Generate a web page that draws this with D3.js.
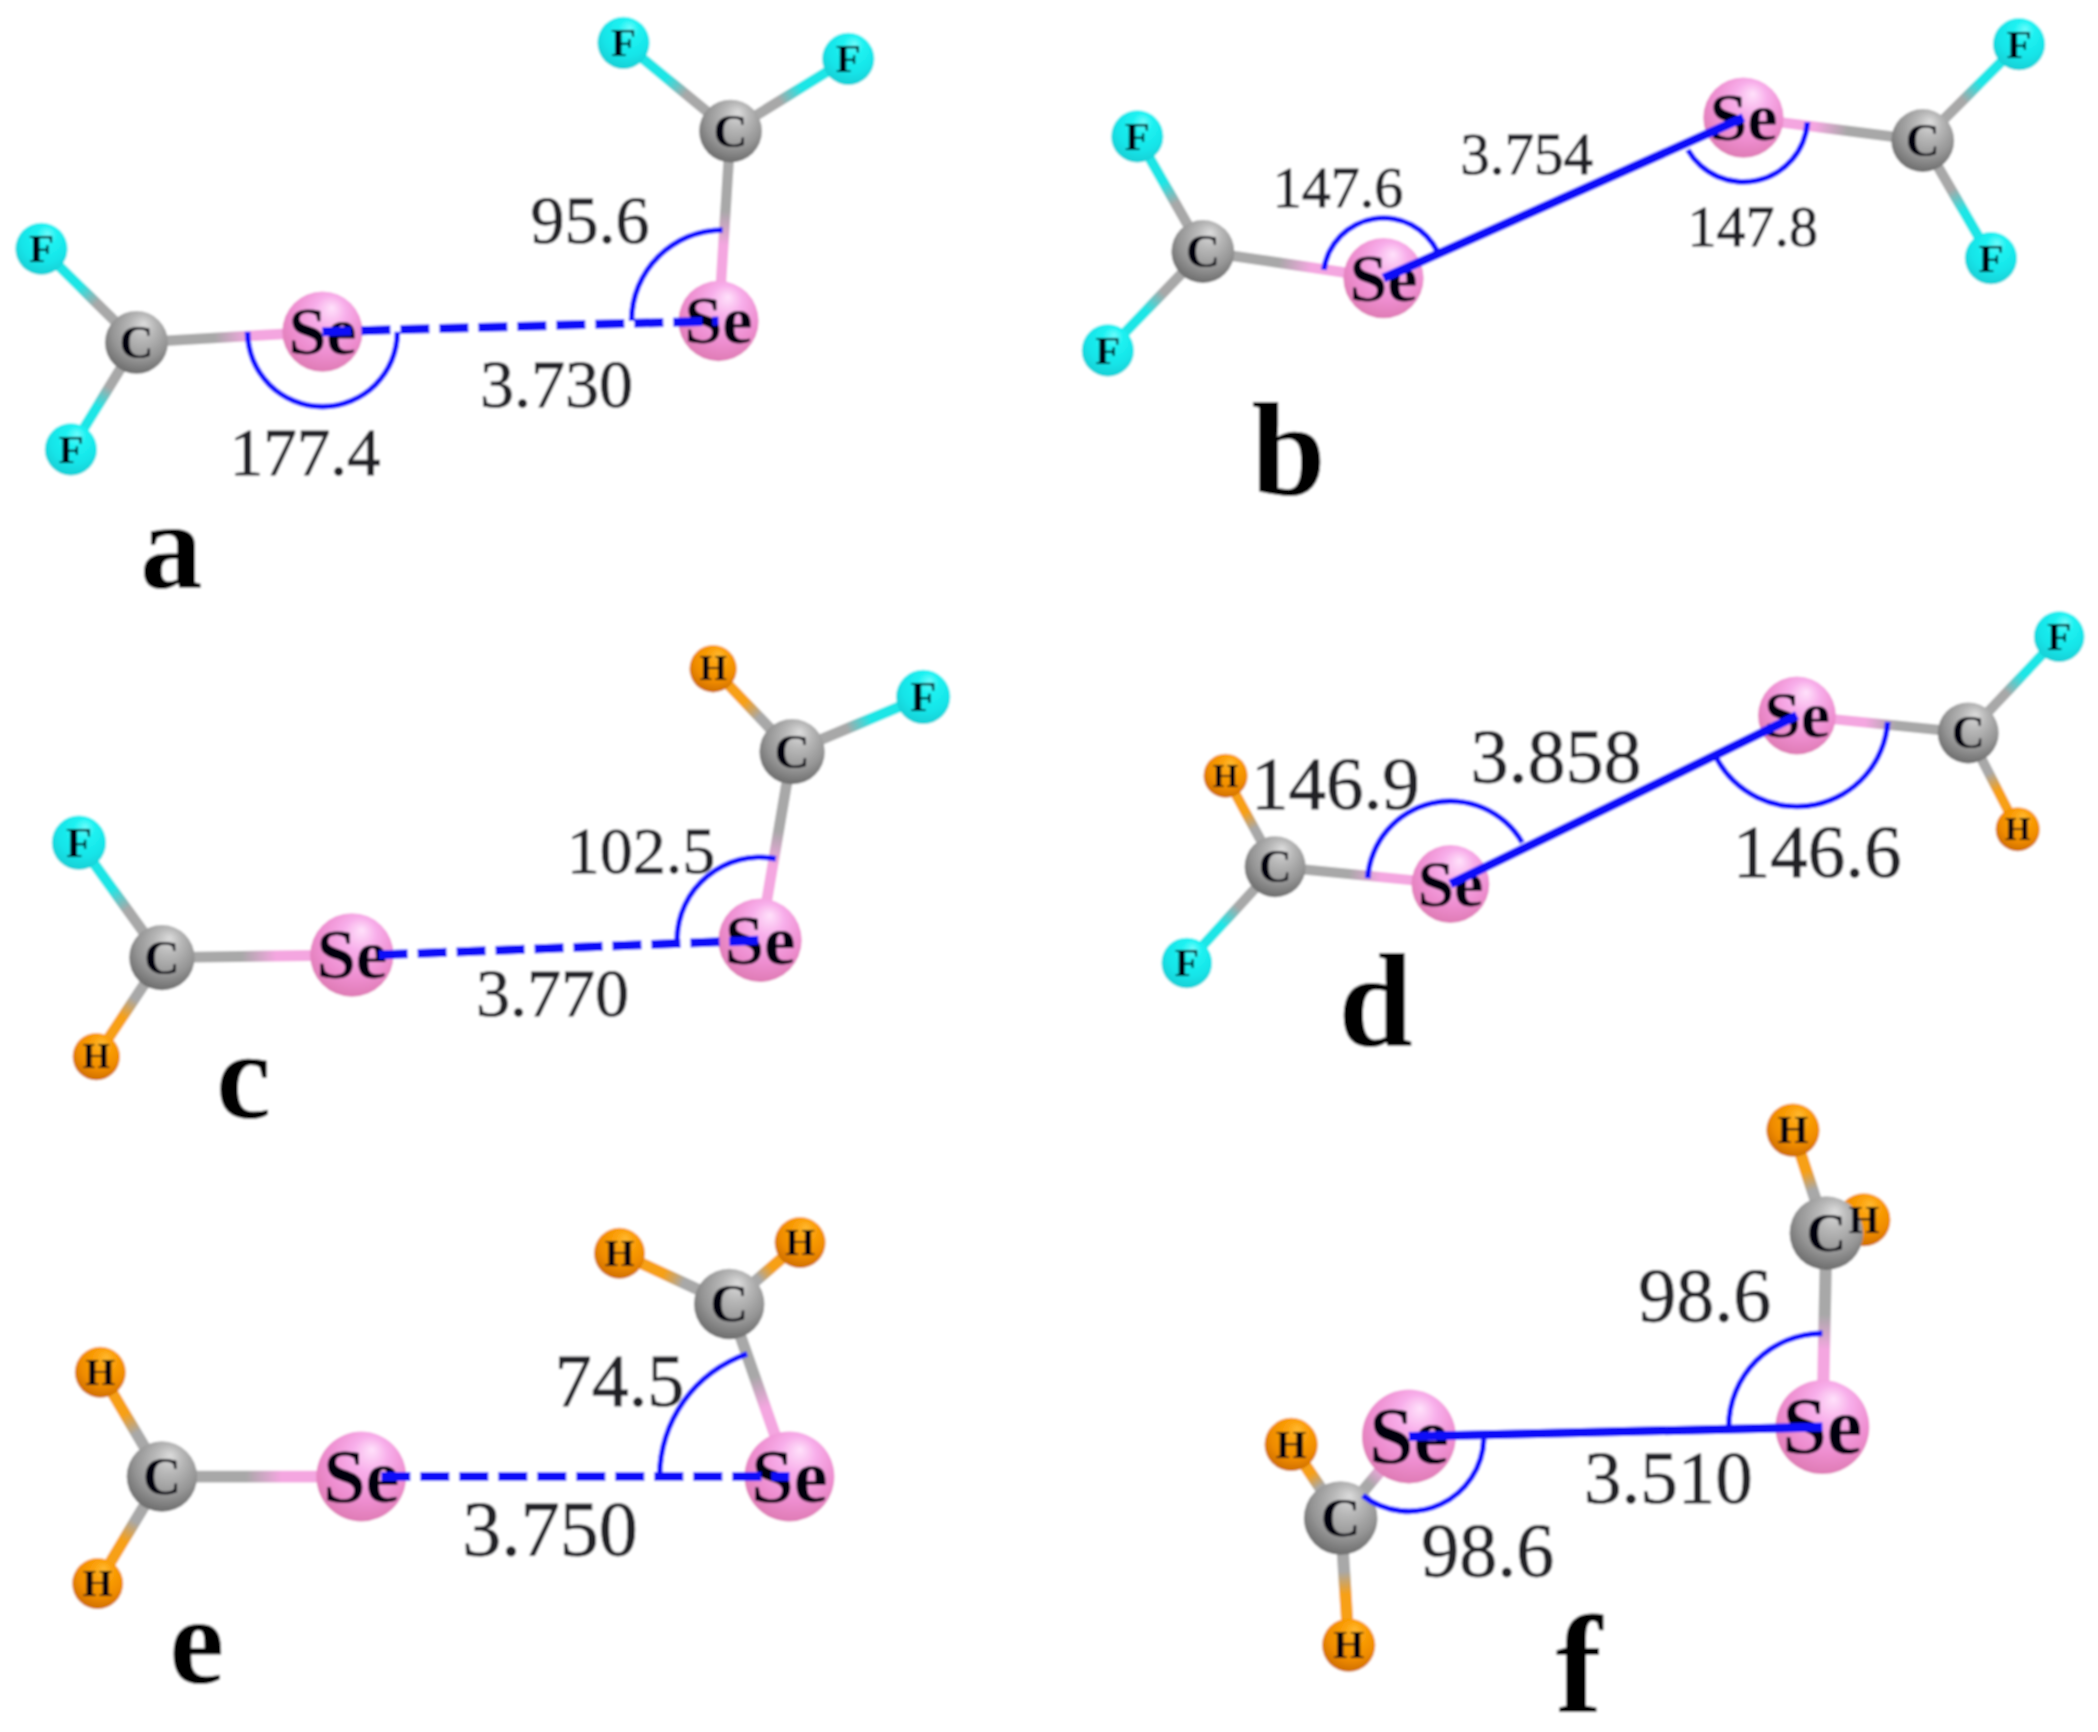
<!DOCTYPE html>
<html>
<head>
<meta charset="utf-8">
<script src="https://cdn.jsdelivr.net/npm/d3@7"></script>
<style>
  html, body { margin: 0; padding: 0; background: #fff; }
  svg { display: block; }
  text { font-family: "Liberation Serif", serif; }
</style>
</head>
<body>
<div class="figure"></div>
<script>
// atoms: [element, x, y]
// order in every panel: Se, C, X, X, Se, C, X, X
const atomsA = [["Se",241,248],["C",102,256],["F",31,186],["F",53,336],["Se",537,240],["C",546,98],["F",466,32],["F",634,44]];
const atomsB = [["Se",1034,208],["C",899,188],["F",850,102],["F",828,262],["Se",1303,88],["C",1437,105],["F",1509,33],["F",1488,193]];
const atomsC = [["Se",263,714],["C",121,716],["F",59,630],["H",72,790],["Se",568,703],["C",592,562],["H",533,500],["F",690,521]];
const atomsD = [["Se",1084,661],["C",953,648],["H",916,580],["F",887,720],["Se",1343,535],["C",1471,548],["F",1539,476],["H",1508,620]];
const atomsE = [["Se",270,1104],["C",121,1104],["H",75,1026],["H",73,1184],["Se",590,1104],["C",545,975],["H",463,937],["H",598,929]];
const atomsF = [["Se",1053,1074],["C",1002,1135],["H",965,1080],["H",1008,1230],["Se",1362,1067],["C",1365,922],["H",1340,845],["H",1393,912]];
const panelAtoms = [atomsA, atomsB, atomsC, atomsD, atomsE, atomsF];
const panelZoom = [1, 1, 1.04, 0.97, 1.12, 1.17];

// Se...Se contacts: [x1, y1, x2, y2, dashed]
const contacts = [
  [241, 248, 537, 240, true],
  [1034, 208, 1303, 88, false],
  [283, 714, 568, 703, true],
  [1084, 661, 1343, 535, false],
  [285, 1104, 590, 1104, true],
  [1053, 1074, 1362, 1067, false],
];

// angle marks: [centre x, centre y, radius, start deg, end deg], clockwise from 12 o'clock
const angleMarks = [
  [241, 248, 56, 90, 270],
  [540, 240, 68, 270, 360],
  [1034, 208, 45, 278, 424],
  [1303, 88, 48, 94, 240],
  [568, 703, 62, 270, 371],
  [1084, 661, 62, 274, 420],
  [1343, 535, 68, 94, 243],
  [590, 1104, 97, 270, 341],
  [1053, 1074, 56, 92, 218],
  [1362, 1067, 70, 270, 360],
];

// value labels: [text, x, baseline, font px]
const valueLabels = [
  ["177.4", 228, 355, 67], ["95.6", 441, 182, 68], ["3.730", 416, 304, 68],
  ["147.6", 1000, 155, 58], ["3.754", 1141, 130, 59], ["147.8", 1310, 184, 58],
  ["102.5", 479, 653, 66], ["3.770", 413, 760, 68],
  ["146.9", 998, 605, 75], ["3.858", 1163, 585, 76], ["146.6", 1358, 656, 75],
  ["74.5", 463, 1051, 74], ["3.750", 411, 1163, 78],
  ["98.6", 1274, 988, 76], ["3.510", 1247, 1124, 75], ["98.6", 1112, 1178, 76],
];

// panel letters: [letter, x, baseline, font px]
const panelLetters = [
  ["a", 128, 440, 125], ["b", 963, 370, 134], ["c", 182, 836, 124],
  ["d", 1028, 782, 134], ["e", 147, 1258, 124], ["f", 1180, 1280, 140],
];

const bondPairs = [[1, 0], [1, 2], [1, 3], [5, 4], [5, 6], [5, 7]];

const radius = { Se: 30, C: 23.5, F: 19.5, H: 17 };
const labelSize = { Se: 68, C: 47, F: 41, H: 34 };
const drawOrder = { H: 0, F: 0, C: 1, Se: 2 };
const bondColor = { Se: "#f4a6e0", C: "#a8a8a8", F: "#1fe6e6", H: "#f7a018" };
const sphereStops = {
  Se: ["#ffe2fb", "#f8aeea", "#ee8ed0", "#dc78b0"],
  C: ["#dcdcdc", "#b8b8b8", "#959595", "#666666"],
  F: ["#6afcfc", "#1df2f2", "#16e4e8", "#10ccd2"],
  H: ["#ffb830", "#fca008", "#f08c00", "#c86800"],
};

const width = 2098;
const height = 1732;

const xScale = d3.scaleLinear().domain([0, 1568]).range([0, width]);
const yScale = d3.scaleLinear().domain([0, 1295]).range([0, height]);

const svg = d3
  .select(".figure")
  .append("svg")
  .attr("width", width)
  .attr("height", height);

const defs = svg.append("defs");

// the source is a soft raster, so everything gets a small blur
defs
  .append("filter")
  .attr("id", "soft")
  .attr("x", 0)
  .attr("y", 0)
  .attr("width", 1)
  .attr("height", 1)
  .append("feGaussianBlur")
  .attr("stdDeviation", 1.2);

Object.keys(sphereStops).forEach(function (el) {
  const grad = defs
    .append("radialGradient")
    .attr("id", "sphere-" + el)
    .attr("cx", 0.54)
    .attr("cy", 0.38)
    .attr("r", 0.66)
    .attr("fx", 0.62)
    .attr("fy", 0.2);
  [0, 0.3, 0.68, 1].forEach(function (o, i) {
    grad.append("stop").attr("offset", o).attr("stop-color", sphereStops[el][i]);
  });
});

const root = svg.append("g").attr("filter", "url(#soft)");

root
  .append("rect")
  .attr("width", width)
  .attr("height", height)
  .attr("fill", "#fff");

// each bond fades from one atom's colour to the other's around the middle
const bonds = [];
panelAtoms.forEach(function (atoms, p) {
  bondPairs.forEach(function (pair) {
    const a = atoms[pair[0]];
    const b = atoms[pair[1]];
    bonds.push({ id: "bond-" + bonds.length, a, b, zoom: panelZoom[p] });
  });
});

bonds.forEach(function (d) {
  const grad = defs
    .append("linearGradient")
    .attr("id", d.id)
    .attr("gradientUnits", "userSpaceOnUse")
    .attr("x1", xScale(d.a[1]))
    .attr("y1", yScale(d.a[2]))
    .attr("x2", xScale(d.b[1]))
    .attr("y2", yScale(d.b[2]));
  grad.append("stop").attr("offset", 0.42).attr("stop-color", bondColor[d.a[0]]);
  grad.append("stop").attr("offset", 0.6).attr("stop-color", bondColor[d.b[0]]);
});

root
  .append("g")
  .selectAll("path")
  .data(bonds)
  .join("path")
  .attr("d", (d) => d3.line()([[xScale(d.a[1]), yScale(d.a[2])], [xScale(d.b[1]), yScale(d.b[2])]]))
  .attr("fill", "none")
  .attr("stroke", (d) => "url(#" + d.id + ")")
  .attr("stroke-width", (d) => 10.5 * d.zoom);

const allAtoms = [];
panelAtoms.forEach(function (atoms, p) {
  atoms.forEach(function (a) {
    allAtoms.push({ el: a[0], x: a[1], y: a[2], zoom: panelZoom[p] });
  });
});
allAtoms.sort((a, b) => drawOrder[a.el] - drawOrder[b.el]);

root
  .append("g")
  .selectAll("circle")
  .data(allAtoms)
  .join("circle")
  .attr("cx", (d) => xScale(d.x))
  .attr("cy", (d) => yScale(d.y))
  .attr("r", (d) => xScale(radius[d.el] * d.zoom))
  .attr("fill", (d) => "url(#sphere-" + d.el + ")");

root
  .append("g")
  .selectAll("text")
  .data(allAtoms)
  .join("text")
  .attr("x", (d) => xScale(d.x))
  .attr("y", (d) => yScale(d.y) + labelSize[d.el] * d.zoom * 0.33)
  .attr("text-anchor", "middle")
  .attr("font-weight", "bold")
  .attr("font-size", (d) => labelSize[d.el] * d.zoom)
  .attr("fill", "#050510")
  .text((d) => d.el);

const arc = d3.arc();

root
  .append("g")
  .selectAll("path")
  .data(angleMarks)
  .join("path")
  .attr("transform", (d) => "translate(" + xScale(d[0]) + "," + yScale(d[1]) + ")")
  .attr("d", (d) =>
    arc({
      innerRadius: xScale(d[2]) - 2.8,
      outerRadius: xScale(d[2]) + 2.8,
      startAngle: (d[3] * Math.PI) / 180,
      endAngle: (d[4] * Math.PI) / 180,
    })
  )
  .attr("fill", "#1010ff");

root
  .append("g")
  .selectAll("line")
  .data(contacts)
  .join("line")
  .attr("x1", (d) => xScale(d[0]))
  .attr("y1", (d) => yScale(d[1]))
  .attr("x2", (d) => xScale(d[2]))
  .attr("y2", (d) => yScale(d[3]))
  .attr("stroke", "#0a0af8")
  .attr("stroke-width", 9)
  .attr("stroke-dasharray", (d) => (d[4] ? "29 10" : null));

root
  .append("g")
  .selectAll("text")
  .data(valueLabels)
  .join("text")
  .attr("x", (d) => xScale(d[1]))
  .attr("y", (d) => yScale(d[2]))
  .attr("text-anchor", "middle")
  .attr("font-size", (d) => d[3])
  .attr("fill", "#202026")
  .attr("stroke", "#202026")
  .attr("stroke-width", 0.8)
  .text((d) => d[0]);

root
  .append("g")
  .selectAll("text")
  .data(panelLetters)
  .join("text")
  .attr("x", (d) => xScale(d[1]))
  .attr("y", (d) => yScale(d[2]))
  .attr("text-anchor", "middle")
  .attr("font-weight", "bold")
  .attr("font-size", (d) => d[3])
  .attr("fill", "#000")
  .text((d) => d[0]);
</script>
</body>
</html>
